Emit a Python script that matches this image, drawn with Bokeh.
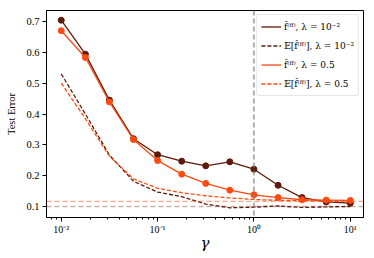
from bokeh.plotting import figure
from bokeh.models import Range1d, Span, FixedTicker, Legend, LegendItem
from bokeh.embed import file_html
from bokeh.resources import INLINE

gamma = [0.01, 0.0178, 0.0316, 0.0562, 0.1, 0.178, 0.316, 0.562, 1.0, 1.78, 3.16, 5.62, 10.0]
err_lam_small = [0.704, 0.594, 0.445, 0.320, 0.268, 0.247, 0.232, 0.245, 0.221, 0.169, 0.129, 0.115, 0.111]
exp_lam_small = [0.530, 0.400, 0.267, 0.182, 0.147, 0.132, 0.108, 0.096, 0.098, 0.102, 0.097, 0.099, 0.100]
err_lam_half = [0.670, 0.583, 0.439, 0.317, 0.249, 0.205, 0.175, 0.153, 0.138, 0.129, 0.122, 0.121, 0.120]
exp_lam_half = [0.500, 0.385, 0.263, 0.190, 0.159, 0.145, 0.135, 0.128, 0.123, 0.120, 0.119, 0.118, 0.118]
baseline_half = 0.117
baseline_small = 0.100
gamma_mark = 1.0

labels = ["f\u0302\u207d\u1da0\u1da0\u207e, \u03bb = 10\u207b\u00b2",
          "\U0001D53C[f\u0302\u207d\u1da0\u1da0\u207e], \u03bb = 10\u207b\u00b2",
          "f\u0302\u207d\u1da0\u1da0\u207e, \u03bb = 0.5",
          "\U0001D53C[f\u0302\u207d\u1da0\u1da0\u207e], \u03bb = 0.5"]
x_tick_vals = [0.01, 0.1, 1.0, 10.0]
x_tick_text = ["10\u207b\u00b2", "10\u207b\u00b9", "10\u2070", "10\u00b9"]
y_tick_vals = [0.1, 0.2, 0.3, 0.4, 0.5, 0.6, 0.7]

DARK = "#5e1a08"
ORANGE = "#ff4a10"
FONT = "Liberation Serif"

p = figure(width=374, height=258, x_axis_type="log",
           x_range=Range1d(10 ** -2.153, 10 ** 1.137), y_range=Range1d(0.0645, 0.7355),
           output_backend="svg", toolbar_location=None)
p.min_border_left = 46
p.min_border_right = 11
p.min_border_top = 10
p.min_border_bottom = 41
p.xgrid.visible = False
p.ygrid.visible = False
p.outline_line_color = "black"
p.outline_line_width = 1
p.background_fill_color = "white"
p.border_fill_color = "white"

p.add_layout(Span(location=baseline_half, dimension="width", line_color=ORANGE, line_alpha=0.5,
                  line_dash="5 3", line_width=1.2))
p.add_layout(Span(location=baseline_small, dimension="width", line_color=DARK, line_alpha=0.35,
                  line_dash="5 3", line_width=1.5))
p.add_layout(Span(location=gamma_mark, dimension="height", line_color="gray",
                  line_dash="5 3", line_width=1.2))

r1 = p.line(gamma, err_lam_small, line_color=DARK, line_width=1.3)
s1 = p.scatter(gamma, err_lam_small, size=6, fill_color=DARK, line_color=DARK)
r2 = p.line(gamma, exp_lam_small, line_color=DARK, line_width=1.3, line_dash="4 2")
r3 = p.line(gamma, err_lam_half, line_color=ORANGE, line_width=1.3)
s3 = p.scatter(gamma, err_lam_half, size=6, fill_color=ORANGE, line_color=ORANGE)
r4 = p.line(gamma, exp_lam_half, line_color=ORANGE, line_width=1.3, line_dash="4 2")

legend = Legend(items=[LegendItem(label=labels[0], renderers=[r1]),
                       LegendItem(label=labels[1], renderers=[r2]),
                       LegendItem(label=labels[2], renderers=[r3]),
                       LegendItem(label=labels[3], renderers=[r4])],
                location="top_right")
legend.label_text_font = "DejaVu Serif"
legend.label_text_font_size = "9px"
legend.label_text_color = "black"
legend.label_height = 15
legend.glyph_height = 15
legend.glyph_width = 20
legend.spacing = 4
legend.padding = 4
legend.margin = 4
legend.label_standoff = 3
legend.border_line_color = "#d0d0d0"
legend.border_radius = 3
legend.background_fill_alpha = 0.85
p.add_layout(legend)

xa = p.xaxis[0]
xa.ticker = FixedTicker(ticks=x_tick_vals,
                        minor_ticks=[m * 10 ** e for e in range(-3, 2) for m in range(2, 10)])
xa.major_label_overrides = {v: t for v, t in zip(x_tick_vals, x_tick_text)}
xa.axis_label = "\u03b3"
xa.axis_label_text_font = "DejaVu Serif"
xa.axis_label_text_font_size = "15px"
xa.axis_label_text_font_style = "italic"
xa.axis_label_text_color = "black"
xa.axis_label_standoff = -4
xa.major_label_text_font = FONT
xa.major_label_text_font_size = "10px"
xa.major_label_text_color = "black"
xa.major_label_standoff = 2
xa.major_tick_in = 0
xa.major_tick_out = 4
xa.minor_tick_in = 0
xa.minor_tick_out = 2

ya = p.yaxis[0]
ya.ticker = FixedTicker(ticks=y_tick_vals)
ya.axis_label = "Test Error"
ya.axis_label_text_font = FONT
ya.axis_label_text_font_size = "10.5px"
ya.axis_label_text_font_style = "normal"
ya.axis_label_text_color = "black"
ya.axis_label_standoff = 6
ya.major_label_text_font = FONT
ya.major_label_text_font_size = "10.5px"
ya.major_label_text_color = "black"
ya.major_label_standoff = 3
ya.major_tick_in = 0
ya.major_tick_out = 4
ya.minor_tick_line_color = None

open("out.html", "w").write(file_html(p, INLINE))
